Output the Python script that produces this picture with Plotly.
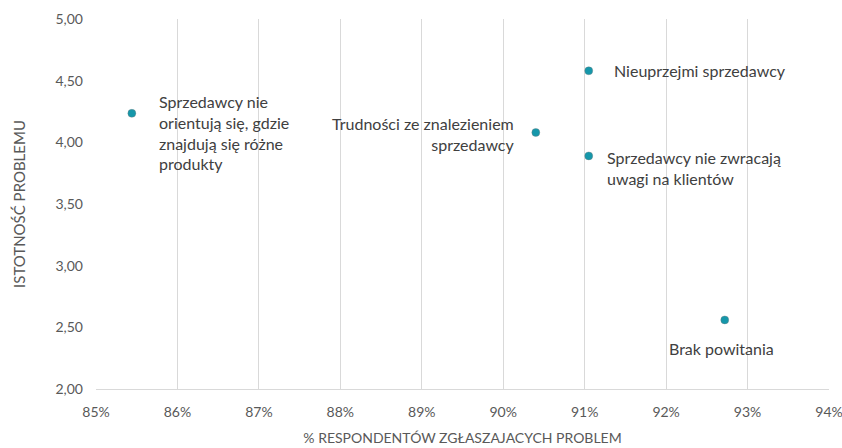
import plotly.graph_objects as go

labels = [
    "Sprzedawcy nie<br>orientują się, gdzie<br>znajdują się różne<br>produkty",
    "Trudności ze znalezieniem<br>sprzedawcy",
    "Nieuprzejmi sprzedawcy",
    "Sprzedawcy nie zwracają<br>uwagi na klientów",
    "Brak powitania",
]
pct = [0.8544, 0.9040, 0.9105, 0.9105, 0.9272]
importance = [4.235, 4.08, 4.58, 3.89, 2.56]

x_ticks = [0.85, 0.86, 0.87, 0.88, 0.89, 0.90, 0.91, 0.92, 0.93, 0.94]
y_ticks = [2.0, 2.5, 3.0, 3.5, 4.0, 4.5, 5.0]

# label placement styles (anchor, align, shift)
label_style = [
    dict(xanchor="left", yanchor="top", align="left", xshift=25, yshift=23),
    dict(xanchor="right", yanchor="middle", align="right", xshift=-20, yshift=-2),
    dict(xanchor="left", yanchor="middle", align="left", xshift=23, yshift=0),
    dict(xanchor="left", yanchor="top", align="left", xshift=16, yshift=10),
    dict(xanchor="center", yanchor="top", align="center", xshift=-3, yshift=-17),
]

FONT = "Lato, 'Open Sans', sans-serif"

fig = go.Figure()
fig.add_trace(go.Scatter(
    x=pct, y=importance, mode="markers",
    marker=dict(size=8, color="#1597aa",
                line=dict(width=1, color="rgba(120,120,120,0.35)")),
    hoverinfo="skip", showlegend=False,
))

for xv, yv, t, st in zip(pct, importance, labels, label_style):
    fig.add_annotation(x=xv, y=yv, text=t, showarrow=False,
                       font=dict(family=FONT, size=16, color="#404040"),
                       **st)

fig.update_layout(
    width=842, height=448,
    margin=dict(l=96, r=13, t=19, b=59),
    paper_bgcolor="white", plot_bgcolor="white",
    separators=", ",
    font=dict(family=FONT, color="#595959", size=14),
    xaxis=dict(
        range=[0.85, 0.94], tickvals=x_ticks, tickformat=".0%",
        showgrid=True, gridcolor="#d9d9d9", gridwidth=1,
        showline=True, linecolor="#d9d9d9", zeroline=False,
        ticks="", tickfont=dict(size=14, color="#595959"),
        ticklabelstandoff=10, automargin=False,
        ticklabeloverflow="allow",
        title=dict(text="% RESPONDENTÓW ZGŁASZAJACYCH PROBLEM",
                   font=dict(size=14, color="#595959"), standoff=14),
    ),
    yaxis=dict(
        range=[2.0, 5.0], tickvals=y_ticks, tickformat=".2f",
        showgrid=False, showline=False, zeroline=False,
        ticks="", tickfont=dict(size=14, color="#595959"),
        ticklabelstandoff=12, automargin=False,
        title=dict(text="ISTOTNOŚĆ PROBLEMU",
                   font=dict(size=15, color="#595959"), standoff=26),
    ),
)

fig.write_html("out.html")
